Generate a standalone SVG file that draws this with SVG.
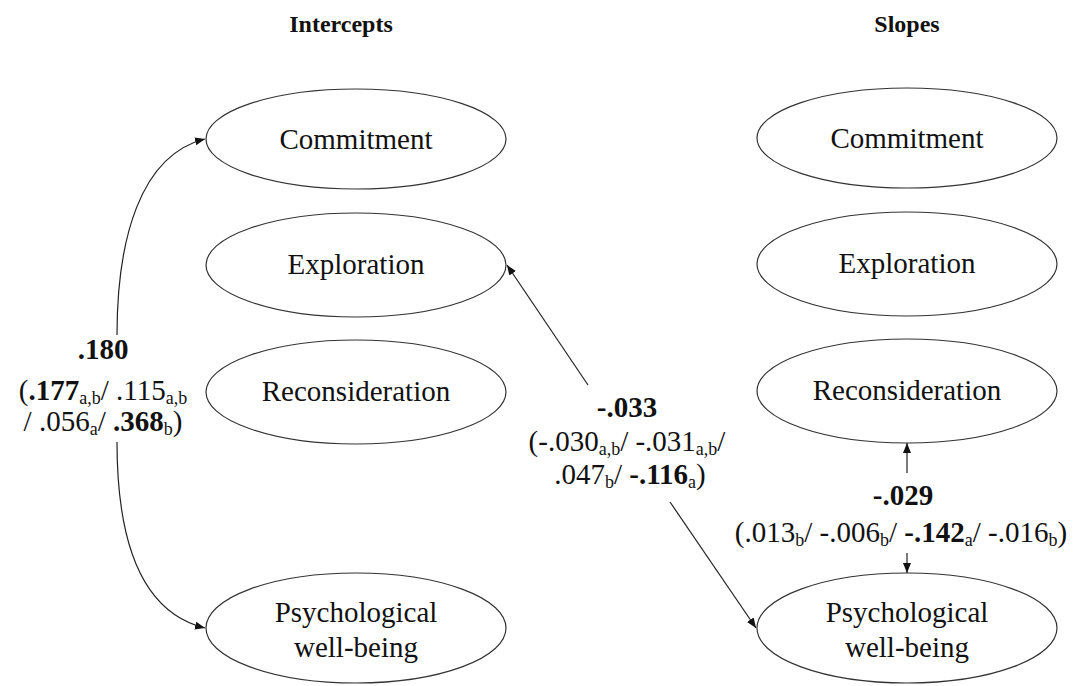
<svg xmlns="http://www.w3.org/2000/svg" width="1092" height="686" viewBox="0 0 1092 686" font-family="Liberation Serif, serif">
<style>
  text { font-family: Liberation Serif, serif; fill: #111; }
  .head { font-size: 24px; font-weight: bold; text-anchor: middle; }
  .node ellipse { fill: #fff; stroke: #333; stroke-width: 1.2; }
  .node text { font-size: 29px; text-anchor: middle; }
  .lbl { font-size: 29px; text-anchor: middle; }
  .b { font-weight: bold; }
  .s { font-size: 18px; }
  .conn path, .conn line { fill: none; stroke: #222; stroke-width: 1.2; }
</style>
<defs>
  <marker id="ah" viewBox="0 0 10 10" refX="10" refY="5" markerWidth="10" markerHeight="10" markerUnits="userSpaceOnUse" orient="auto">
    <path d="M0,1 L10,5 L0,9 z" fill="#111"/>
  </marker>
</defs>
<rect width="1092" height="686" fill="#fff"/>
<text class="head" x="341" y="32">Intercepts</text>
<text class="head" x="907" y="32">Slopes</text>

<g id="L-commitment" class="node"><ellipse cx="356" cy="139" rx="150" ry="50"/><text x="356" y="149">Commitment</text></g>
<g id="L-exploration" class="node"><ellipse cx="356" cy="265" rx="150" ry="52"/><text x="356" y="274">Exploration</text></g>
<g id="L-reconsideration" class="node"><ellipse cx="356" cy="392" rx="150" ry="52"/><text x="356" y="401">Reconsideration</text></g>
<g id="L-wellbeing" class="node"><ellipse cx="356" cy="628" rx="150" ry="55"/><text x="356" y="622">Psychological</text><text x="356" y="657">well-being</text></g>

<g id="R-commitment" class="node"><ellipse cx="907" cy="138" rx="150" ry="50"/><text x="907" y="148">Commitment</text></g>
<g id="R-exploration" class="node"><ellipse cx="907" cy="264" rx="150" ry="52"/><text x="907" y="273">Exploration</text></g>
<g id="R-reconsideration" class="node"><ellipse cx="907" cy="391" rx="150" ry="52"/><text x="907" y="400">Reconsideration</text></g>
<g id="R-wellbeing" class="node"><ellipse cx="907" cy="628" rx="150" ry="55"/><text x="907" y="622">Psychological</text><text x="907" y="657">well-being</text></g>

<g id="connectors" class="conn">
  <path d="M117,335 C117,240 140,155 205,139" marker-end="url(#ah)"/>
  <path d="M117,442 C117,540 140,612 205,628" marker-end="url(#ah)"/>
  <line x1="588" y1="385" x2="507" y2="265" marker-end="url(#ah)"/>
  <line x1="670" y1="502" x2="756" y2="628" marker-end="url(#ah)"/>
  <line x1="907" y1="473" x2="907" y2="443" marker-end="url(#ah)"/>
  <line x1="907" y1="553" x2="907" y2="573" marker-end="url(#ah)"/>
</g>

<g id="label-intercepts">
  <text class="lbl" x="103" y="359"><tspan class="b">.180</tspan></text>
  <text class="lbl" x="103" y="400">(<tspan class="b">.177</tspan><tspan class="s" dy="4">a,b</tspan><tspan dy="-4">/ .115</tspan><tspan class="s" dy="4">a,b</tspan></text>
  <text class="lbl" x="103" y="431">/ .056<tspan class="s" dy="4">a</tspan><tspan dy="-4">/ </tspan><tspan class="b">.368</tspan><tspan class="s" dy="4">b</tspan><tspan dy="-4">)</tspan></text>
</g>
<g id="label-cross">
  <text class="lbl" x="627" y="417"><tspan class="b">-.033</tspan></text>
  <text class="lbl" x="627" y="451">(-.030<tspan class="s" dy="4">a,b</tspan><tspan dy="-4">/ -.031</tspan><tspan class="s" dy="4">a,b</tspan><tspan dy="-4">/</tspan></text>
  <text class="lbl" x="630" y="484">.047<tspan class="s" dy="4">b</tspan><tspan dy="-4">/ </tspan><tspan class="b">-.116</tspan><tspan class="s" dy="4">a</tspan><tspan dy="-4">)</tspan></text>
</g>
<g id="label-slopes">
  <text class="lbl" x="903" y="505"><tspan class="b">-.029</tspan></text>
  <text class="lbl" x="901" y="542">(.013<tspan class="s" dy="4">b</tspan><tspan dy="-4">/ -.006</tspan><tspan class="s" dy="4">b</tspan><tspan dy="-4">/ </tspan><tspan class="b">-.142</tspan><tspan class="s" dy="4">a</tspan><tspan dy="-4">/ -.016</tspan><tspan class="s" dy="4">b</tspan><tspan dy="-4">)</tspan></text>
</g>
</svg>
